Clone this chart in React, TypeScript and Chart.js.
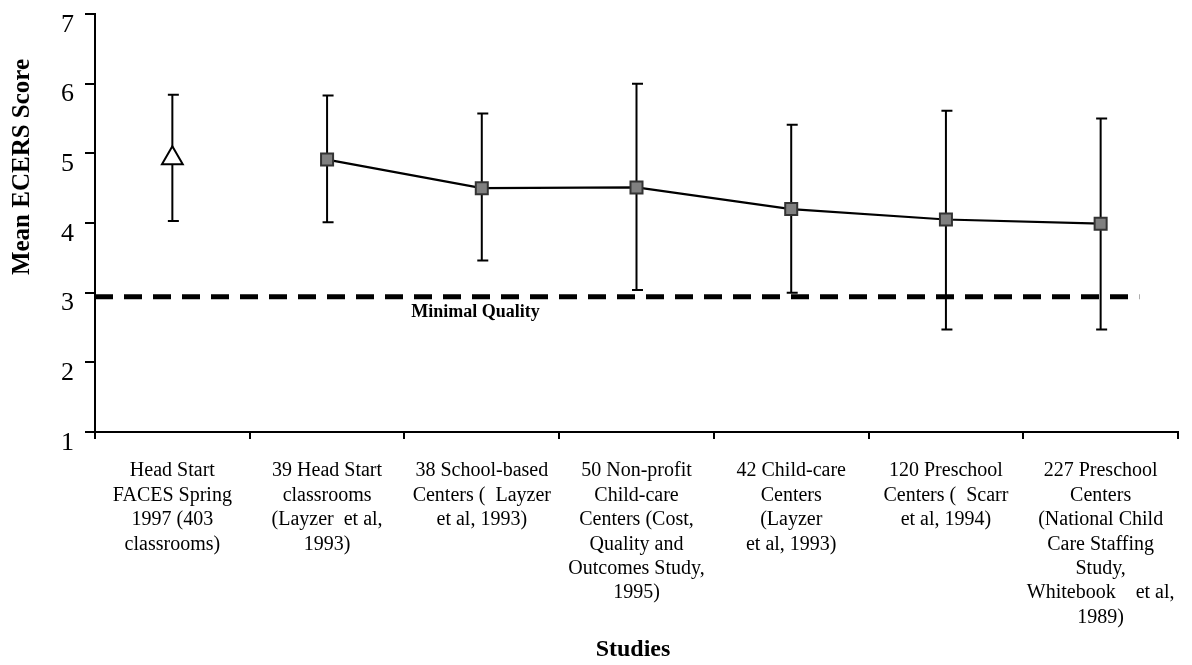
import React, { useEffect, useRef } from "react";
import { Chart, registerables } from "chart.js";

Chart.register(...registerables);

// ---------- data ----------
const categories: string[][] = [
  ["Head Start", "FACES Spring", "1997 (403", "classrooms)"],
  ["39 Head Start", "classrooms", "(Layzer  et al,", "1993)"],
  ["38 School-based", "Centers (  Layzer", "et al, 1993)"],
  ["50 Non-profit", "Child-care", "Centers (Cost,", "Quality and", "Outcomes Study,", "1995)"],
  ["42 Child-care", "Centers", "(Layzer", "et al, 1993)"],
  ["120 Preschool", "Centers (  Scarr", "et al, 1994)"],
  ["227 Preschool", "Centers", "(National Child", "Care Staffing", "Study,", "Whitebook    et al,", "1989)"],
];

const facesMean: (number | null)[] = [4.93, null, null, null, null, null, null];
const studiesMean: (number | null)[] = [null, 4.91, 4.5, 4.51, 4.2, 4.05, 3.99];
const lowValues: number[] = [4.03, 4.01, 3.46, 3.04, 3.0, 2.47, 2.47];
const highValues: number[] = [5.84, 5.83, 5.57, 6.0, 5.41, 5.61, 5.5];

const yTicks: number[] = [1, 2, 3, 4, 5, 6, 7];
const minimalQuality = 2.94;
const minimalQualitySpan: number[] = [-0.5, 6.25];
const minimalQualityLabelX = 1.96;

const yTitle = "Mean ECERS Score";
const xTitle = "Studies";
const minimalQualityLabel = "Minimal Quality";

const SERIF = '"Liberation Serif", "Times New Roman", Times, serif';

// ---------- plugins ----------
const errorBarPlugin = {
  id: "errorBars",
  beforeDatasetsDraw(chart: any) {
    const { ctx } = chart;
    const xs = chart.scales.x;
    const ys = chart.scales.y;
    ctx.save();
    ctx.strokeStyle = "#000";
    ctx.lineWidth = 2;
    const cap = 5.5;
    lowValues.forEach((lo, i) => {
      const hi = highValues[i];
      const px = xs.getPixelForValue(i);
      const pLo = ys.getPixelForValue(lo);
      const pHi = ys.getPixelForValue(hi);
      ctx.beginPath();
      ctx.moveTo(px, pHi);
      ctx.lineTo(px, pLo);
      ctx.moveTo(px - cap + 1, pHi);
      ctx.lineTo(px + cap + 1, pHi);
      ctx.moveTo(px - cap + 1, pLo);
      ctx.lineTo(px + cap + 1, pLo);
      ctx.stroke();
    });
    ctx.restore();
  },
};

const textPlugin = {
  id: "texts",
  afterDraw(chart: any) {
    const { ctx, chartArea } = chart;
    const ys = chart.scales.y;
    const x2 = chart.scales.x2;
    ctx.save();
    ctx.fillStyle = "#000";
    ctx.textAlign = "center";
    ctx.textBaseline = "middle";

    // y-axis title
    ctx.save();
    ctx.font = `bold 25px ${SERIF}`;
    ctx.translate(chartArea.left - 72, chartArea.top + 153);
    ctx.rotate(-Math.PI / 2);
    ctx.fillText(yTitle, 0, 0);
    ctx.restore();

    // x-axis title
    ctx.font = `bold 24px ${SERIF}`;
    ctx.fillText(xTitle, chartArea.left + 538, chartArea.bottom + 218);

    // minimal quality label
    ctx.font = `bold 18px ${SERIF}`;
    ctx.fillText(
      minimalQualityLabel,
      x2.getPixelForValue(minimalQualityLabelX),
      ys.getPixelForValue(minimalQuality) + 15
    );
    ctx.restore();
  },
};

export default function App() {
  const canvasRef = useRef<HTMLCanvasElement | null>(null);

  useEffect(() => {
    const canvas = canvasRef.current;
    if (!canvas) return;
    const chart = new Chart(canvas, {
      type: "line",
      data: {
        labels: categories as any,
        datasets: [
          {
            label: "Minimal Quality",
            data: minimalQualitySpan.map((x) => ({ x, y: minimalQuality })) as any,
            xAxisID: "x2",
            borderColor: "#000",
            borderWidth: 5,
            borderDash: [18, 11],
            pointRadius: 0,
            fill: false,
            order: 0,
          },
          {
            label: "Studies",
            data: studiesMean,
            borderColor: "#000",
            borderWidth: 2.2,
            tension: 0,
            pointStyle: "rect",
            pointRadius: 8.5,
            pointHoverRadius: 8.5,
            pointBackgroundColor: "#808080",
            pointBorderColor: "#333",
            pointBorderWidth: 2,
            fill: false,
            spanGaps: false,
            order: 1,
          },
          {
            label: "FACES",
            data: facesMean,
            showLine: false,
            pointStyle: "triangle",
            pointRadius: 12,
            pointHoverRadius: 12,
            pointBackgroundColor: "#fff",
            pointBorderColor: "#000",
            pointBorderWidth: 2,
            order: 2,
          },
        ],
      },
      options: {
        responsive: false,
        animation: false,
        devicePixelRatio: 1,
        layout: { padding: { left: 0, top: 8, right: 7, bottom: 0 } },
        plugins: {
          legend: { display: false },
          tooltip: { enabled: false },
          title: { display: false },
        },
        scales: {
          x: {
            type: "category",
            offset: true,
            afterFit: (scale: any) => {
              scale.height = 233;
              scale.paddingLeft = 0;
              scale.paddingRight = 0;
            },
            grid: {
              display: true,
              offset: true,
              drawOnChartArea: false,
              drawTicks: true,
              tickLength: 7,
              color: "#000",
              lineWidth: 2,
            },
            border: { display: true, color: "#000", width: 2 },
            ticks: {
              autoSkip: false,
              maxRotation: 0,
              minRotation: 0,
              padding: 20,
              color: "#000",
              font: { family: SERIF, size: 20, lineHeight: 1.22 },
            },
          },
          x2: {
            type: "linear",
            display: false,
            min: -0.5,
            max: 6.5,
          },
          y: {
            type: "linear",
            min: yTicks[0],
            max: yTicks[yTicks.length - 1],
            afterFit: (scale: any) => {
              scale.width = 95;
              scale.paddingTop = 0;
              scale.paddingBottom = 0;
            },
            afterBuildTicks: (scale: any) => {
              scale.ticks = yTicks.map((v) => ({ value: v }));
            },
            grid: {
              display: true,
              drawOnChartArea: false,
              drawTicks: true,
              tickLength: 10,
              color: "#000",
              lineWidth: 2,
            },
            border: { display: true, color: "#000", width: 2 },
            ticks: {
              stepSize: 1,
              padding: 11,
              labelOffset: 11,
              color: "#000",
              font: { family: SERIF, size: 26 },
            },
          },
        },
      },
      plugins: [errorBarPlugin, textPlugin],
    });
    return () => chart.destroy();
  }, []);

  return (
    <div
      style={{
        position: "fixed",
        left: 0,
        top: 0,
        width: 1192,
        height: 665,
        background: "#fff",
      }}
    >
      <canvas ref={canvasRef} width={1192} height={665} style={{ width: 1192, height: 665, display: "block" }} />
    </div>
  );
}
